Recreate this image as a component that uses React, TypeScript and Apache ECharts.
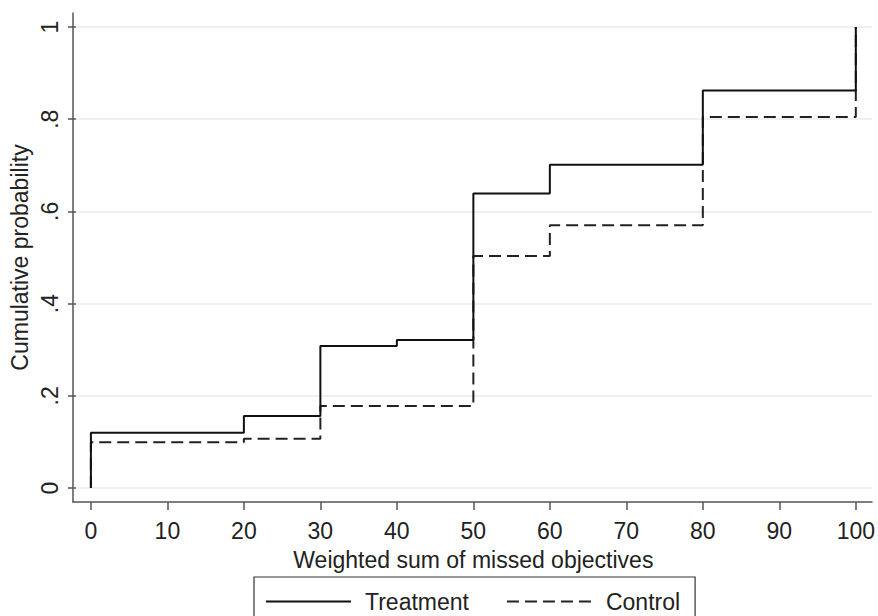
import React, { useEffect, useRef } from "react";
import * as echarts from "echarts";

const xTicks = [0, 10, 20, 30, 40, 50, 60, 70, 80, 90, 100];
const yTicks = [0, 0.2, 0.4, 0.6, 0.8, 1];
const yTickLabels = ["0", ".2", ".4", ".6", ".8", "1"];

const treatmentX = [0, 0, 20, 30, 40, 50, 60, 80, 100];
const treatmentY = [0, 0.12, 0.156, 0.308, 0.321, 0.639, 0.701, 0.862, 1];

const controlX = [0, 0, 20, 30, 50, 60, 80, 100];
const controlY = [0, 0.099, 0.107, 0.178, 0.503, 0.57, 0.805, 1];

const FONT = "'Liberation Sans', Arial, Helvetica, sans-serif";
const FS = 23;

export default function App() {
  const ref = useRef<HTMLDivElement>(null);
  useEffect(() => {
    if (!ref.current) return;
    const chart = echarts.init(ref.current, null, { renderer: "svg" });
    const tData = treatmentX.map((x, i) => [x, treatmentY[i]]);
    const cData = controlX.map((x, i) => [x, controlY[i]]);
    chart.setOption({
      animation: false,
      backgroundColor: "#ffffff",
      textStyle: { fontFamily: FONT },
      grid: [
        { left: 88, right: 21, top: 27, bottom: 128 },
        { left: 73, right: 6, top: 27, bottom: 128 },
        { left: 73, right: 6, top: 13, bottom: 114 },
      ],
      xAxis: [
        {
          gridIndex: 0,
          type: "value",
          min: xTicks[0],
          max: xTicks[xTicks.length - 1],
          interval: 10,
          offset: 14,
          axisLine: { show: false, onZero: false },
          axisTick: { show: true, length: 8, lineStyle: { color: "#555", width: 1.5 } },
          axisLabel: { fontSize: FS, color: "#222", margin: 17, fontFamily: FONT },
          splitLine: { show: false },
          name: "Weighted sum of missed objectives",
          nameLocation: "middle",
          nameGap: 46,
          nameTextStyle: { fontSize: FS, color: "#222", fontFamily: FONT },
        },
        {
          gridIndex: 1,
          type: "value",
          min: 0,
          max: 1,
          show: false,
        },
        {
          gridIndex: 2,
          type: "value",
          min: 0,
          max: 1,
          axisLine: { show: true, onZero: false, lineStyle: { color: "#555", width: 1.5 } },
          axisTick: { show: false },
          axisLabel: { show: false },
          splitLine: { show: false },
        },
      ],
      yAxis: [
        {
          gridIndex: 0,
          type: "value",
          min: yTicks[0],
          max: yTicks[yTicks.length - 1],
          interval: 0.2,
          offset: 15,
          axisLine: { show: false, onZero: false },
          axisTick: { show: true, length: 8, lineStyle: { color: "#555", width: 1.5 } },
          axisLabel: {
            fontSize: FS,
            color: "#222",
            margin: 14,
            rotate: 90,
            fontFamily: FONT,
            formatter: (v: number) => {
              const idx = yTicks.findIndex((t) => Math.abs(t - v) < 1e-6);
              return idx >= 0 ? yTickLabels[idx] : "";
            },
          },
          splitLine: { show: false },
          name: "Cumulative probability",
          nameLocation: "middle",
          nameRotate: 90,
          nameGap: 39,
          nameTextStyle: { fontSize: FS, color: "#222", fontFamily: FONT },
        },
        {
          gridIndex: 1,
          type: "value",
          min: 0,
          max: 1,
          interval: 0.2,
          axisLine: { show: false },
          axisTick: { show: false },
          axisLabel: { show: false },
          splitLine: { show: true, lineStyle: { color: "#ebebeb", width: 1.5 } },
        },
        {
          gridIndex: 2,
          type: "value",
          min: 0,
          max: 1,
          axisLine: { show: true, onZero: false, lineStyle: { color: "#555", width: 1.5 } },
          axisTick: { show: false },
          axisLabel: { show: false },
          splitLine: { show: false },
        },
      ],
      legend: {
        left: 254,
        top: 577,
        orient: "horizontal",
        padding: [13, 15, 10, 11],
        borderColor: "#333",
        borderWidth: 1.2,
        borderRadius: 0,
        itemWidth: 85,
        itemHeight: 14,
        itemGap: 37,
        itemStyle: { opacity: 0 },
        textStyle: {
          fontSize: FS,
          color: "#222",
          fontFamily: FONT,
          lineHeight: 23,
          padding: [0, 0, 0, 9],
        },
        data: ["Treatment", "Control"],
      },
      series: [
        {
          name: "Control",
          type: "line",
          xAxisIndex: 0,
          yAxisIndex: 0,
          step: "end",
          symbol: "none",
          data: cData,
          lineStyle: { color: "#222", width: 2, type: [12, 6] },
          itemStyle: { color: "#222" },
          z: 3,
        },
        {
          name: "Treatment",
          type: "line",
          xAxisIndex: 0,
          yAxisIndex: 0,
          step: "end",
          symbol: "none",
          data: tData,
          lineStyle: { color: "#111", width: 2, type: "solid" },
          itemStyle: { color: "#111" },
          z: 4,
        },
      ],
    });
    return () => chart.dispose();
  }, []);
  return <div ref={ref} style={{ width: 878, height: 616, position: "absolute", left: 0, top: 0 }} />;
}
